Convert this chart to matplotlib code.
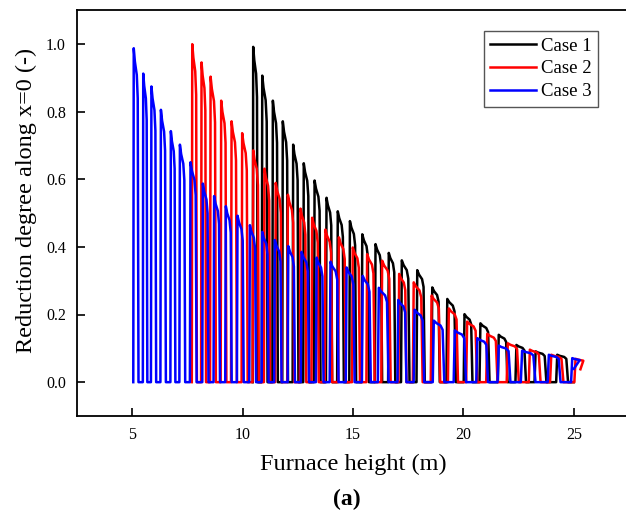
import matplotlib.pyplot as plt
import numpy as np

# peak positions (m) and peak heights
case1_x = [10.48, 10.89, 11.37, 11.82, 12.29, 12.77, 13.26, 13.80, 14.31, 14.86, 15.42, 16.02,
           16.62, 17.21, 17.91, 18.59, 19.27, 20.05, 20.77, 21.60, 22.40, 23.27, 24.25]
case1_y = [0.991, 0.906, 0.832, 0.771, 0.702, 0.647, 0.596, 0.545, 0.505, 0.476, 0.437, 0.408,
           0.382, 0.360, 0.331, 0.280, 0.246, 0.201, 0.174, 0.140, 0.110, 0.091, 0.081]

case2_x = [7.72, 8.14, 8.55, 9.03, 9.50, 9.98, 10.48, 10.99, 11.50, 12.05, 12.62, 13.15, 13.75,
           14.36, 14.99, 15.64, 16.32, 17.09, 17.75, 18.56, 19.34, 20.17, 21.08, 22.01, 23.01,
           23.98, 25.08]
case2_y = [0.999, 0.945, 0.903, 0.832, 0.771, 0.736, 0.685, 0.631, 0.589, 0.554, 0.513, 0.486,
           0.451, 0.428, 0.398, 0.378, 0.359, 0.320, 0.295, 0.256, 0.218, 0.179, 0.143, 0.115,
           0.096, 0.081, 0.069]

case3_x = [5.07, 5.50, 5.87, 6.30, 6.75, 7.16, 7.64, 8.20, 8.71, 9.24, 9.77, 10.33, 10.89, 11.46,
           12.07, 12.67, 13.35, 13.98, 14.71, 15.44, 16.17, 17.05, 17.79, 18.66, 19.61, 20.63,
           21.60, 22.66, 23.87, 24.93]
case3_y = [0.987, 0.912, 0.874, 0.805, 0.742, 0.702, 0.650, 0.587, 0.550, 0.520, 0.492, 0.464,
           0.444, 0.420, 0.402, 0.385, 0.368, 0.356, 0.339, 0.314, 0.279, 0.243, 0.214, 0.182,
           0.153, 0.130, 0.108, 0.093, 0.081, 0.071]

line_end = [25.0, 25.3, 25.0]
labels = ["Case 1", "Case 2", "Case 3"]
colors = ["black", "red", "blue"]


def pulses(px, py, x_end):
    xs, ys = [], []
    for i in range(len(px)):
        d = px[i + 1] - px[i] if i + 1 < len(px) else px[i] - px[i - 1]
        x0, h = px[i], py[i]
        xs += [x0 - 0.05 * d, x0, x0 + 0.12 * d, x0 + 0.32 * d, x0 + 0.42 * d, x0 + 0.5 * d]
        ys += [0, h, 0.96 * h, 0.92 * h, 0.85 * h, 0]
    if xs[-1] > x_end:
        # last pulse is cut at the end of the line
        xs, ys = xs[:-1], ys[:-1]
        xs[-1] = x_end
        ys[-1] = 0.6 * ys[-2]
    else:
        xs.append(x_end)
        ys.append(0)
    return xs, ys


plt.rcParams['font.family'] = ['Liberation Serif', 'DejaVu Serif']
fig = plt.figure(figsize=(6.26, 5.16), dpi=100)
ax = fig.add_axes([77 / 626, 1 - 416 / 516, 552 / 626, 406 / 516])

for px, py, xe, lab, c in zip([case1_x, case2_x, case3_x], [case1_y, case2_y, case3_y],
                              line_end, labels, colors):
    xs, ys = pulses(px, py, xe)
    ax.plot(xs, ys, color=c, lw=1.8, label=lab)

ax.set_xlim(2.5, 27.5)
ax.set_ylim(-0.1, 1.1)
ax.set_xticks([5, 10, 15, 20, 25])
ax.set_yticks(np.arange(0, 1.01, 0.2))
ax.yaxis.set_major_formatter(plt.FormatStrFormatter('%.1f'))
ax.tick_params(direction='in', length=6, width=1.2, labelsize=11.5, pad=8)
for s in ax.spines.values():
    s.set_linewidth(1.3)

ax.set_xlabel("Furnace height (m)", fontsize=17.5, labelpad=8)
ax.set_ylabel("Reduction degree along x=0 (-)", fontsize=17.5)
ax.yaxis.set_label_coords(-0.073, 0.53)
fig.text(347 / 626, 1 - 499 / 516, "(a)", fontsize=17, fontweight='bold', ha='center', va='center')

ax.legend(loc='upper right', bbox_to_anchor=(598 / 626, 1 - 31 / 516), bbox_transform=fig.transFigure,
          fancybox=False, edgecolor='#555555', fontsize=13.5, handlelength=2.45, borderaxespad=0,
          labelspacing=0.3, handletextpad=0.25, borderpad=0.35, framealpha=1)

fig.savefig("out.png", dpi=100)
